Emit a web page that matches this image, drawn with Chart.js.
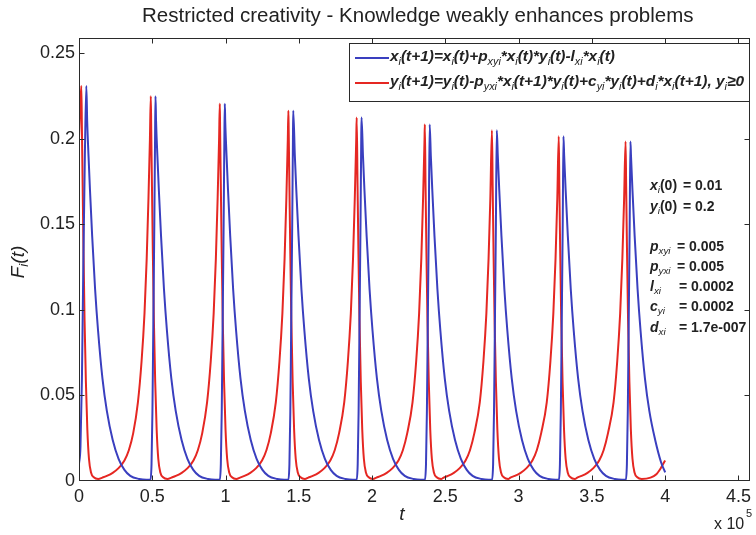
<!DOCTYPE html>
<html>
<head>
<meta charset="utf-8">
<script src="https://cdn.jsdelivr.net/npm/chart.js@4.4.0/dist/chart.umd.min.js"></script>
<style>
  html, body { margin: 0; padding: 0; background: #fff; }
</style>
</head>
<body>
<canvas id="chart" width="756" height="535"></canvas>
<script>
// t en unidades de 10^5
const redT = [
  0, 0.008, 0.016, 0.02, 0.025, 0.031, 0.038, 0.047, 0.057, 0.068, 0.082, 0.101, 0.131,
  0.16, 0.19, 0.23, 0.27, 0.31, 0.34, 0.37, 0.402, 0.427, 0.447, 0.462, 0.474, 0.484, 0.49,
  0.493, 0.498, 0.504, 0.511, 0.52, 0.53, 0.541, 0.555, 0.574, 0.604,
  0.631, 0.661, 0.701, 0.741, 0.781, 0.811, 0.841, 0.874, 0.899, 0.919, 0.934, 0.946, 0.956, 0.961,
  0.963, 0.968, 0.974, 0.981, 0.99, 1.0, 1.011, 1.025, 1.044, 1.074,
  1.099, 1.129, 1.169, 1.209, 1.249, 1.279, 1.309, 1.343, 1.368, 1.388, 1.403, 1.415, 1.425, 1.429,
  1.431, 1.436, 1.442, 1.449, 1.458, 1.468, 1.479, 1.493, 1.512, 1.542,
  1.565, 1.595, 1.635, 1.675, 1.715, 1.745, 1.775, 1.81, 1.835, 1.855, 1.87, 1.882, 1.892, 1.895,
  1.901, 1.907, 1.914, 1.923, 1.933, 1.944, 1.958, 1.977, 2.007,
  2.03, 2.06, 2.1, 2.14, 2.18, 2.21, 2.24, 2.276, 2.301, 2.321, 2.336, 2.348, 2.358, 2.36,
  2.365, 2.371, 2.378, 2.387, 2.397, 2.408, 2.422, 2.441, 2.471,
  2.488, 2.518, 2.558, 2.598, 2.638, 2.668, 2.698, 2.735, 2.76, 2.78, 2.795, 2.807, 2.818,
  2.823, 2.829, 2.836, 2.845, 2.855, 2.866, 2.88, 2.899, 2.929,
  2.944, 2.974, 3.014, 3.054, 3.094, 3.124, 3.154, 3.192, 3.217, 3.237, 3.252, 3.264, 3.274,
  3.278, 3.284, 3.291, 3.3, 3.31, 3.321, 3.335, 3.354, 3.384,
  3.4, 3.43, 3.47, 3.51, 3.55, 3.58, 3.61, 3.648, 3.673, 3.693, 3.708, 3.72, 3.73,
  3.734, 3.74, 3.747, 3.756, 3.766, 3.777, 3.791, 3.81, 3.84,
  3.9, 3.94, 3.97, 4.0
];
const redF = [
  0.2, 0.218, 0.231, 0.205, 0.172, 0.133, 0.094, 0.058, 0.03, 0.013, 0.005, 0.0022, 0.0012,
  0.002, 0.003, 0.0048, 0.0075, 0.012, 0.018, 0.028, 0.046, 0.07, 0.098, 0.13, 0.165, 0.2, 0.225,
  0.205, 0.172, 0.133, 0.094, 0.058, 0.03, 0.013, 0.005, 0.0022, 0.0012,
  0.002, 0.003, 0.0048, 0.0075, 0.012, 0.018, 0.028, 0.046, 0.07, 0.098, 0.13, 0.165, 0.2, 0.2205,
  0.205, 0.172, 0.133, 0.094, 0.058, 0.03, 0.013, 0.005, 0.0022, 0.0012,
  0.002, 0.003, 0.0048, 0.0075, 0.012, 0.018, 0.028, 0.046, 0.07, 0.098, 0.13, 0.165, 0.2, 0.2165,
  0.205, 0.172, 0.133, 0.094, 0.058, 0.03, 0.013, 0.005, 0.0022, 0.0012,
  0.002, 0.003, 0.0048, 0.0075, 0.012, 0.018, 0.028, 0.046, 0.07, 0.098, 0.13, 0.165, 0.2, 0.2125,
  0.172, 0.133, 0.094, 0.058, 0.03, 0.013, 0.005, 0.0022, 0.0012,
  0.002, 0.003, 0.0048, 0.0075, 0.012, 0.018, 0.028, 0.046, 0.07, 0.098, 0.13, 0.165, 0.2, 0.2085,
  0.172, 0.133, 0.094, 0.058, 0.03, 0.013, 0.005, 0.0022, 0.0012,
  0.002, 0.003, 0.0048, 0.0075, 0.012, 0.018, 0.028, 0.046, 0.07, 0.098, 0.13, 0.165, 0.205,
  0.172, 0.133, 0.094, 0.058, 0.03, 0.013, 0.005, 0.0022, 0.0012,
  0.002, 0.003, 0.0048, 0.0075, 0.012, 0.018, 0.028, 0.046, 0.07, 0.098, 0.13, 0.165, 0.2015,
  0.172, 0.133, 0.094, 0.058, 0.03, 0.013, 0.005, 0.0022, 0.0012,
  0.002, 0.003, 0.0048, 0.0075, 0.012, 0.018, 0.028, 0.046, 0.07, 0.098, 0.13, 0.165, 0.1985,
  0.172, 0.133, 0.094, 0.058, 0.03, 0.013, 0.005, 0.0022, 0.0012,
  0.002, 0.004, 0.0075, 0.012
];
const blueT = [
  0, 0.01, 0.02, 0.03, 0.04, 0.05,
  0.056, 0.065, 0.075, 0.09, 0.11, 0.13, 0.16, 0.19, 0.23, 0.27, 0.31, 0.35, 0.41, 0.46,
  0.488, 0.495, 0.501, 0.507, 0.514, 0.519, 0.522,
  0.526, 0.535, 0.545, 0.56, 0.58, 0.6, 0.63, 0.66, 0.7, 0.74, 0.78, 0.82, 0.88, 0.93,
  0.961, 0.968, 0.974, 0.98, 0.987, 0.992, 0.995,
  0.998, 1.007, 1.017, 1.032, 1.052, 1.072, 1.102, 1.132, 1.172, 1.212, 1.252, 1.292, 1.352, 1.402,
  1.429, 1.436, 1.442, 1.448, 1.455, 1.46, 1.462,
  1.473, 1.483, 1.498, 1.518, 1.538, 1.568, 1.598, 1.638, 1.678, 1.718, 1.758, 1.818, 1.868,
  1.895, 1.902, 1.908, 1.914, 1.921, 1.926, 1.928,
  1.938, 1.948, 1.963, 1.983, 2.003, 2.033, 2.063, 2.103, 2.143, 2.183, 2.223, 2.283, 2.333,
  2.361, 2.368, 2.374, 2.38, 2.387, 2.393,
  2.401, 2.411, 2.426, 2.446, 2.466, 2.496, 2.526, 2.566, 2.606, 2.646, 2.686, 2.746, 2.796,
  2.819, 2.826, 2.832, 2.838, 2.845, 2.851,
  2.858, 2.868, 2.883, 2.903, 2.923, 2.953, 2.983, 3.023, 3.063, 3.103, 3.143, 3.203, 3.253,
  3.275, 3.282, 3.288, 3.294, 3.301, 3.306,
  3.311, 3.321, 3.336, 3.356, 3.376, 3.406, 3.436, 3.476, 3.516, 3.556, 3.596, 3.656, 3.706,
  3.732, 3.739, 3.745, 3.751, 3.758, 3.763,
  3.767, 3.777, 3.792, 3.812, 3.832, 3.862, 3.892, 3.932, 3.972, 4.0
];
const blueF = [
  0.01, 0.02, 0.06, 0.13, 0.19, 0.231,
  0.21, 0.19, 0.17, 0.143, 0.112, 0.088, 0.06, 0.041, 0.024, 0.013, 0.0065, 0.003, 0.0012, 0.0007,
  0.0008, 0.01, 0.04, 0.09, 0.15, 0.2, 0.225,
  0.21, 0.19, 0.17, 0.143, 0.112, 0.088, 0.06, 0.041, 0.024, 0.013, 0.0065, 0.003, 0.0012, 0.0007,
  0.0008, 0.01, 0.04, 0.09, 0.15, 0.2, 0.2205,
  0.21, 0.19, 0.17, 0.143, 0.112, 0.088, 0.06, 0.041, 0.024, 0.013, 0.0065, 0.003, 0.0012, 0.0007,
  0.0008, 0.01, 0.04, 0.09, 0.15, 0.2, 0.2165,
  0.19, 0.17, 0.143, 0.112, 0.088, 0.06, 0.041, 0.024, 0.013, 0.0065, 0.003, 0.0012, 0.0007,
  0.0008, 0.01, 0.04, 0.09, 0.15, 0.2, 0.2125,
  0.19, 0.17, 0.143, 0.112, 0.088, 0.06, 0.041, 0.024, 0.013, 0.0065, 0.003, 0.0012, 0.0007,
  0.0008, 0.01, 0.04, 0.09, 0.15, 0.2085,
  0.19, 0.17, 0.143, 0.112, 0.088, 0.06, 0.041, 0.024, 0.013, 0.0065, 0.003, 0.0012, 0.0007,
  0.0008, 0.01, 0.04, 0.09, 0.15, 0.205,
  0.19, 0.17, 0.143, 0.112, 0.088, 0.06, 0.041, 0.024, 0.013, 0.0065, 0.003, 0.0012, 0.0007,
  0.0008, 0.01, 0.04, 0.09, 0.15, 0.2015,
  0.19, 0.17, 0.143, 0.112, 0.088, 0.06, 0.041, 0.024, 0.013, 0.0065, 0.003, 0.0012, 0.0007,
  0.0008, 0.01, 0.04, 0.09, 0.15, 0.1985,
  0.19, 0.17, 0.143, 0.112, 0.088, 0.06, 0.041, 0.024, 0.011, 0.005
];

const xTicks = [0, 0.5, 1, 1.5, 2, 2.5, 3, 3.5, 4, 4.5];
const yTicks = [0, 0.05, 0.1, 0.15, 0.2, 0.25];
const X_MAX = 4.58;
const Y_MAX = 0.259;

if (redT.length !== redF.length || blueT.length !== blueF.length) {
  throw new Error(`lengths red ${redT.length}/${redF.length} blue ${blueT.length}/${blueF.length}`);
}

const TITLE = "Restricted creativity - Knowledge weakly enhances problems";
// [texto, tipo]: bi = negrita cursiva, s = subíndice, b = negrita
const legendX = [["x","bi"],["i","s"],["(t+1)=x","bi"],["i","s"],["(t)+p","bi"],["xyi","s"],["*x","bi"],["i","s"],
  ["(t)*y","bi"],["i","s"],["(t)-l","bi"],["xi","s"],["*x","bi"],["i","s"],["(t)","bi"]];
const legendY = [["y","bi"],["i","s"],["(t+1)=y","bi"],["i","s"],["(t)-p","bi"],["yxi","s"],["*x","bi"],["i","s"],
  ["(t+1)*y","bi"],["i","s"],["(t)+c","bi"],["yi","s"],["*y","bi"],["i","s"],["(t)+d","bi"],["i","s"],
  ["*x","bi"],["i","s"],["(t+1), y","bi"],["i","s"],["\u22650","bi"]];
const params = [
  { name: [["x","bi"],["i","s"],["(0)","b"]], value: "= 0.01", y: 186, vx: 683 },
  { name: [["y","bi"],["i","s"],["(0)","b"]], value: "= 0.2", y: 207, vx: 683 },
  { name: [["p","bi"],["xyi","s"]], value: "= 0.005", y: 247, vx: 677 },
  { name: [["p","bi"],["yxi","s"]], value: "= 0.005", y: 267, vx: 677 },
  { name: [["l","bi"],["xi","s"]], value: "= 0.0002", y: 287, vx: 679 },
  { name: [["c","bi"],["yi","s"]], value: "= 0.0002", y: 307, vx: 679 },
  { name: [["d","bi"],["xi","s"]], value: "= 1.7e-007", y: 328, vx: 679 }
];

const FONT = '"Liberation Sans", Arial, sans-serif';
const TEXT = "#222";
const AXIS = "#2a2a2a";
const BLUE = "#3a3fbf";
const RED = "#e52722";

function partFont(kind, size) {
  if (kind === "s") return `italic ${(size * 0.7).toFixed(1)}px ${FONT}`;
  const style = { bi: "italic bold", b: "bold", i: "italic", n: "" }[kind];
  return `${style} ${size.toFixed(1)}px ${FONT}`;
}

function richWidth(ctx, parts, size) {
  let w = 0;
  parts.forEach(([t, k]) => { ctx.font = partFont(k, size); w += ctx.measureText(t).width; });
  return w;
}

function drawRich(ctx, parts, x, y, size) {
  ctx.textBaseline = "middle";
  ctx.textAlign = "left";
  let cx = x;
  parts.forEach(([t, k]) => {
    ctx.font = partFont(k, size);
    ctx.fillText(t, cx, k === "s" ? y + size * 0.3 : y);
    cx += ctx.measureText(t).width;
  });
  return cx;
}

const decorations = {
  id: "decorations",
  afterDraw(chart) {
    const { ctx, chartArea: a, scales } = chart;
    ctx.save();

    // Marco y ticks hacia dentro
    ctx.strokeStyle = AXIS;
    ctx.lineWidth = 1;
    const L = Math.round(a.left) + 0.5, R = Math.round(a.right) - 0.5;
    const T = Math.round(a.top) + 0.5, B = Math.round(a.bottom) - 0.5;
    ctx.strokeRect(L, T, R - L, B - T);
    ctx.beginPath();
    xTicks.forEach(v => {
      const px = Math.round(scales.x.getPixelForValue(v)) + 0.5;
      if (px <= L + 1 || px >= R - 1) return;
      ctx.moveTo(px, B); ctx.lineTo(px, B - 5);
      ctx.moveTo(px, T); ctx.lineTo(px, T + 5);
    });
    yTicks.forEach(v => {
      const py = Math.round(scales.y.getPixelForValue(v)) + 0.5;
      if (py >= B - 1 || py <= T + 1) return;
      ctx.moveTo(L, py); ctx.lineTo(L + 5, py);
      ctx.moveTo(R, py); ctx.lineTo(R - 5, py);
    });
    ctx.stroke();

    ctx.fillStyle = TEXT;

    // Título
    ctx.font = `16px ${FONT}`;
    const tw = ctx.measureText(TITLE).width;
    const ts = 16 * 552 / tw;
    ctx.font = `${ts.toFixed(1)}px ${FONT}`;
    ctx.textAlign = "left";
    ctx.textBaseline = "middle";
    ctx.fillText(TITLE, 142, 16);

    // Etiqueta eje x
    ctx.font = `italic 19px ${FONT}`;
    ctx.textAlign = "center";
    ctx.fillText("t", 402, 515);
    ctx.font = `16px ${FONT}`;
    ctx.textAlign = "left";
    ctx.fillText("x 10", 714, 525);
    ctx.font = `11px ${FONT}`;
    ctx.fillText("5", 746, 514);

    // Etiqueta eje y
    ctx.save();
    ctx.translate(19, 262);
    ctx.rotate(-Math.PI / 2);
    const yl = [["F", "i"], ["i", "s"], ["(t)", "i"]];
    const yw = richWidth(ctx, yl, 19);
    drawRich(ctx, yl, -yw / 2, 0, 19);
    ctx.restore();

    // Leyenda
    ctx.fillStyle = "#fff";
    ctx.fillRect(349, 43, 401, 59);
    ctx.strokeStyle = AXIS;
    ctx.strokeRect(349.5, 43.5, 400, 58);
    ctx.lineWidth = 2;
    ctx.strokeStyle = BLUE;
    ctx.beginPath(); ctx.moveTo(355, 58); ctx.lineTo(389, 58); ctx.stroke();
    ctx.strokeStyle = RED;
    ctx.beginPath(); ctx.moveTo(355, 83); ctx.lineTo(389, 83); ctx.stroke();
    const ls = 14 * 355 / richWidth(ctx, legendY, 14);
    ctx.fillStyle = TEXT;
    drawRich(ctx, legendX, 390, 57, ls);
    drawRich(ctx, legendY, 390, 82, ls);

    // Parámetros
    params.forEach(p => {
      drawRich(ctx, p.name, 650, p.y, 14);
      ctx.font = `bold 14px ${FONT}`;
      ctx.fillText(p.value, p.vx, p.y);
    });

    ctx.restore();
  }
};

const toPoints = (ts, fs) => ts.map((t, i) => ({ x: t, y: fs[i] }));

new Chart(document.getElementById("chart"), {
  type: "line",
  data: {
    datasets: [
      {
        label: "x",
        data: toPoints(blueT, blueF),
        borderColor: BLUE,
        borderWidth: 2,
        pointRadius: 0,
        cubicInterpolationMode: "monotone",
        fill: false
      },
      {
        label: "y",
        data: toPoints(redT, redF),
        borderColor: RED,
        borderWidth: 2,
        pointRadius: 0,
        cubicInterpolationMode: "monotone",
        fill: false
      }
    ]
  },
  options: {
    responsive: false,
    animation: false,
    events: [],
    layout: { padding: { left: 0, right: 4, top: 38, bottom: 0 } },
    plugins: { legend: { display: false }, tooltip: { enabled: false } },
    scales: {
      x: {
        type: "linear",
        min: 0,
        max: X_MAX,
        afterBuildTicks: s => { s.ticks = xTicks.map(v => ({ value: v })); },
        afterFit: s => { s.height = 54; },
        grid: { display: false, drawTicks: false },
        border: { display: false },
        ticks: {
          color: TEXT,
          font: { family: FONT, size: 18 },
          padding: 5,
          maxRotation: 0,
          autoSkip: false,
          callback: v => String(v)
        }
      },
      y: {
        type: "linear",
        min: 0,
        max: Y_MAX,
        afterBuildTicks: s => { s.ticks = yTicks.map(v => ({ value: v })); },
        afterFit: s => { s.width = 79; },
        grid: { display: false, drawTicks: false },
        border: { display: false },
        ticks: {
          color: TEXT,
          font: { family: FONT, size: 18 },
          padding: 4,
          autoSkip: false,
          callback: v => String(v)
        }
      }
    }
  },
  plugins: [decorations]
});
</script>
</body>
</html>
